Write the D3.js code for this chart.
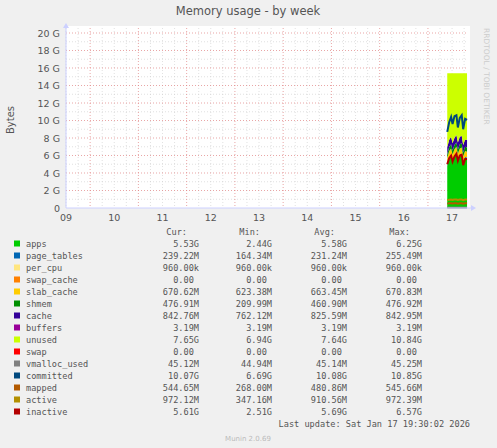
<!DOCTYPE html>
<html><head><meta charset="utf-8">
<script src="https://cdn.jsdelivr.net/npm/d3@7"></script>
<style>body{margin:0;background:#F0F0F0}</style></head>
<body><svg id="c" width="497" height="448"></svg>
<script>
const dayLabels=["09","10","11","12","13","14","15","16","17"];
const yTicks=[0,2,4,6,8,10,12,14,16,18,20];
const times=[17.40,17.44,17.48,17.51,17.55,17.59,17.62,17.66,17.70,17.73,17.77,17.81];
const apps=[4.8,5.6,5.9,5.2,5.8,6.1,5.3,5.9,6.0,5.0,5.6,5.53];
const page_tables=[0.24,0.24,0.24,0.24,0.24,0.24,0.24,0.24,0.24,0.24,0.24,0.24];
const per_cpu=[0.001,0.001,0.001,0.001,0.001,0.001,0.001,0.001,0.001,0.001,0.001,0.001];
const swap_cache=[0,0,0,0,0,0,0,0,0,0,0,0];
const slab_cache=[0.65,0.66,0.67,0.66,0.67,0.67,0.66,0.67,0.67,0.66,0.67,0.67];
const shmem=[0.46,0.47,0.48,0.47,0.48,0.48,0.47,0.48,0.48,0.47,0.48,0.48];
const cache=[0.80,0.82,0.85,0.83,0.84,0.85,0.82,0.84,0.85,0.82,0.84,0.84];
const buffers=[0.003,0.003,0.003,0.003,0.003,0.003,0.003,0.003,0.003,0.003,0.003,0.003];
const unused=[8.45,7.61,7.26,8.0,7.37,7.06,7.91,7.27,7.16,8.21,7.57,7.65];
const swap=[0,0,0,0,0,0,0,0,0,0,0,0];
const vmalloc_used=[0.045,0.045,0.045,0.045,0.045,0.045,0.045,0.045,0.045,0.045,0.045,0.045];
const committed=[8.7,9.8,10.4,9.6,10.5,10.6,9.2,10.3,10.6,9.0,10.2,10.07];
const mapped=[0.50,0.54,0.55,0.52,0.54,0.55,0.50,0.54,0.55,0.49,0.54,0.54];
const active=[0.90,0.95,0.97,0.93,0.96,0.97,0.91,0.96,0.97,0.90,0.96,0.97];
const inactive=[5.0,5.7,6.0,5.3,5.9,6.2,5.4,6.0,6.1,4.9,5.6,5.61];

const stackS=[["apps",apps,"#00CC00"],["page_tables",page_tables,"#0066B3"],["per_cpu",per_cpu,"#FFE680"],["swap_cache",swap_cache,"#FF8000"],["slab_cache",slab_cache,"#FFCC00"],["shmem",shmem,"#008F00"],["cache",cache,"#330099"],["buffers",buffers,"#990099"],["unused",unused,"#CCFF00"],["swap",swap,"#FF0000"]];
const lineS=[["vmalloc_used",vmalloc_used,"#808080"],["committed",committed,"#00487D"],["mapped",mapped,"#B35A00"],["active",active,"#B38F00"],["inactive",inactive,"#B30000"]];
const legendVals={apps:["5.53G","2.44G","5.58G","6.25G"],page_tables:["239.22M","164.34M","231.24M","255.49M"],per_cpu:["960.00k","960.00k","960.00k","960.00k"],swap_cache:["0.00 ","0.00 ","0.00 ","0.00 "],slab_cache:["670.62M","623.38M","663.45M","670.83M"],shmem:["476.91M","209.99M","460.90M","476.92M"],cache:["842.76M","762.12M","825.59M","842.95M"],buffers:["3.19M","3.19M","3.19M","3.19M"],unused:["7.65G","6.94G","7.64G","10.84G"],swap:["0.00 ","0.00 ","0.00 ","0.00 "],vmalloc_used:["45.12M","44.94M","45.14M","45.25M"],committed:["10.07G","6.69G","10.08G","10.85G"],mapped:["544.65M","268.00M","480.86M","545.66M"],active:["972.12M","347.16M","910.56M","972.39M"],inactive:["5.61G","2.51G","5.69G","6.57G"]};

const svg=d3.select("#c");
const L=66,R=468,T=33,B=208;
const x=d3.scaleLinear().domain([9.5,17.83]).range([L,R]);
const y=d3.scaleLinear().domain([0,20]).range([B,T]);
svg.append("rect").attr("x",L).attr("y",T-7).attr("width",R-L+2).attr("height",B-T+7).attr("fill","#fff");
const g=svg.append("g");
for(let v=1;v<20;v+=2) g.append("line").attr("x1",L).attr("x2",R).attr("y1",y(v)).attr("y2",y(v)).attr("stroke","#ccc").attr("stroke-dasharray","1,2").attr("stroke-width",0.6);
for(let t=9.5;t<17.83;t+=0.25){ if(Math.abs(t-Math.round(t))<1e-6) continue; g.append("line").attr("x1",x(t)).attr("x2",x(t)).attr("y1",T-5).attr("y2",B).attr("stroke","#ccc").attr("stroke-dasharray","1,2").attr("stroke-width",0.6);}
yTicks.forEach(v=>{ if(v>0) g.append("line").attr("x1",L).attr("x2",R).attr("y1",y(v)).attr("y2",y(v)).attr("stroke","#e08080").attr("stroke-dasharray","1,2").attr("stroke-width",0.7);});
for(let d=10;d<=17;d++) g.append("line").attr("x1",x(d)).attr("x2",x(d)).attr("y1",T-5).attr("y2",B).attr("stroke","#e08080").attr("stroke-dasharray","1,2").attr("stroke-width",0.7);

const rows=times.map((t,i)=>{const o={t};stackS.forEach(s=>o[s[0]]=s[1][i]);return o;});
const st=d3.stack().keys(stackS.map(s=>s[0]))(rows);
const area=d3.area().x(d=>x(d.data.t)).y0(d=>y(d[0])).y1(d=>y(d[1]));
st.forEach((s,i)=>g.append("path").attr("d",area(s)).attr("fill",stackS[i][2]));
const line=d3.line().x((d,i)=>x(times[i])).y(d=>y(d));
lineS.forEach(s=>g.append("path").attr("d",line(s[1])).attr("fill","none").attr("stroke",s[2]).attr("stroke-width",2));

g.append("line").attr("x1",L).attr("x2",R+4).attr("y1",B).attr("y2",B).attr("stroke","#ccd0ff");
g.append("line").attr("x1",L).attr("x2",L).attr("y1",B).attr("y2",T-6).attr("stroke","#ccd0ff");
g.append("path").attr("d",`M${R+3},${B-3}L${R+8},${B}L${R+3},${B+3}Z`).attr("fill","#ccd0ff");
g.append("path").attr("d",`M${L-3},${T-5}L${L},${T-10}L${L+3},${T-5}Z`).attr("fill","#ccd0ff");
const font="DejaVu Sans";
yTicks.forEach(v=>svg.append("text").attr("x",L-6).attr("y",y(v)+3.5).attr("text-anchor","end").attr("font-family",font).attr("font-size",9.5).attr("fill","#555").text(v===0?"0":v+" G"));
dayLabels.forEach((l,i)=>svg.append("text").attr("x",x(9.5+i)).attr("y",B+13).attr("text-anchor","middle").attr("font-family",font).attr("font-size",9.5).attr("fill","#555").text(l));
svg.append("text").attr("x",248).attr("y",15).attr("text-anchor","middle").attr("font-family",font).attr("font-size",11.5).attr("fill","#555").text("Memory usage - by week");
svg.append("text").attr("transform","translate(14,120) rotate(-90)").attr("text-anchor","middle").attr("font-family",font).attr("font-size",10).attr("fill","#555").text("Bytes");
svg.append("text").attr("transform","translate(484,28) rotate(90)").attr("font-family",font).attr("font-size",7.5).attr("fill","#ccc").text("RRDTOOL / TOBI OETIKER");
const mono="DejaVu Sans Mono",fs=8.6;
const cols=[199,272,347,422];
["Cur:","Min:","Avg:","Max:"].forEach((h,i)=>svg.append("text").attr("x",cols[i]-12).attr("y",235).attr("text-anchor","end").attr("font-family",mono).attr("font-size",fs).attr("fill","#555").text(h));
[...stackS,...lineS].forEach((s,i)=>{const yy=244+i*12;
 svg.append("rect").attr("x",14).attr("y",yy-3.5).attr("width",6).attr("height",6).attr("fill",s[2]);
 svg.append("text").attr("x",26).attr("y",yy+3).attr("font-family",mono).attr("font-size",fs).attr("fill","#555").text(s[0]);
 legendVals[s[0]].forEach((v,j)=>svg.append("text").attr("x",cols[j]).attr("y",yy+3).attr("text-anchor","end").attr("font-family",mono).attr("font-size",fs).attr("fill","#555").style("white-space","pre").text(v));
});
svg.append("text").attr("x",470).attr("y",427).attr("text-anchor","end").attr("font-family",mono).attr("font-size",fs).attr("fill","#555").text("Last update: Sat Jan 17 19:30:02 2026");
svg.append("text").attr("x",248).attr("y",441).attr("text-anchor","middle").attr("font-family",font).attr("font-size",7).attr("fill","#bbb").text("Munin 2.0.69");
</script></body></html>
